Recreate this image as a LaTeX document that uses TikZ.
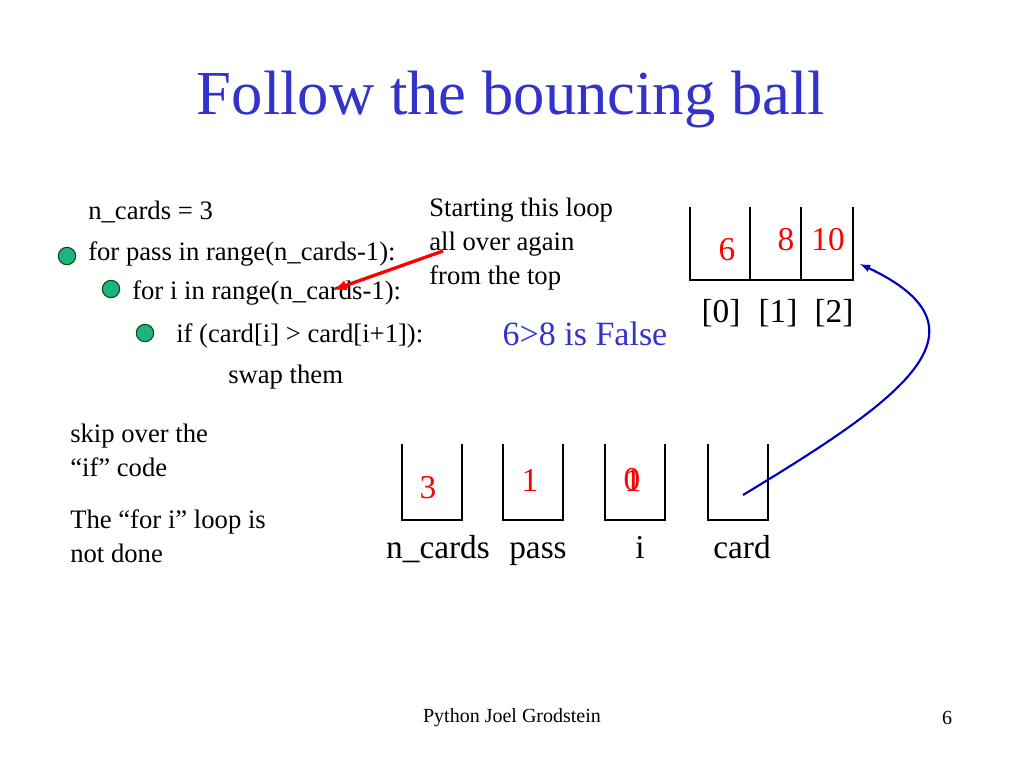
\documentclass[tikz,border=0pt]{standalone}
\usepackage{fontspec}
\setmainfont{Liberation Serif}
\begin{document}
\begin{tikzpicture}[x=0.75pt,y=-0.75pt,
  code/.style={anchor=west,inner sep=0,font=\fontsize{20}{25.5}\selectfont},
  lbl/.style={inner sep=0,anchor=base,font=\fontsize{25}{30}\selectfont},
  num/.style={inner sep=0,text=red,font=\fontsize{25}{30}\selectfont},
  bul/.style={circle,draw=black!70!green,fill={rgb,255:red,30;green,180;blue,130},minimum size=13pt,inner sep=0,line width=0.8pt},
  cup/.style={line width=2pt}]
\useasboundingbox (0,0) rectangle (1024,768);
\node[inner sep=0,text={rgb,255:red,51;green,51;blue,204},font=\fontsize{47}{54}\selectfont] (title) at (511,100) {Follow the bouncing ball};
\node[code] (l1) at (88,212) {n\_cards = 3};
\node[code] (l2) at (88,254) {for pass in range(n\_cards-1):};
\node[code] (l3) at (132,293) {for i in range(n\_cards-1):};
\node[code] (l4) at (176,336) {if (card[i] > card[i+1]):};
\node[code] (l5) at (228,377) {swap them};
\node[bul] (b1) at (67,256) {};
\node[bul] (b2) at (111,289) {};
\node[bul] (b3) at (145,333) {};
\node[code,align=left] (note) at (429,244) {Starting this loop\\all over again\\from the top};
\node[code,align=left] (skip) at (70,450) {skip over the\\“if” code};
\node[code,align=left] (ndone) at (70,536) {The “for i” loop is\\not done};
\node[inner sep=0,text={rgb,255:red,51;green,51;blue,204},font=\fontsize{25.5}{30}\selectfont] (cmp) at (585,334) {6>8 is False};
% top array
\draw[cup] (690,207) -- (690,280) -- (853,280) -- (853,207);
\draw[cup] (750,207) -- (750,280);
\draw[cup] (801,207) -- (801,280);
\node[num] (a0) at (727,250) {6};
\node[num] (a1) at (786,240) {8};
\node[num] (a2) at (828,240) {10};
\node[lbl] (i0) at (721,322) {[0]};
\node[lbl] (i1) at (778,322) {[1]};
\node[lbl] (i2) at (834,322) {[2]};
% variable boxes
\foreach \x/\n in {402/nc,503/ps,605/ii,708/cd}{
  \draw[cup] (\x,444) -- (\x,520) -- (\x+60,520) -- (\x+60,444);
  \coordinate (\n) at (\x+30,482);
}
\node[num] (v3) at (428,488) {3};
\node[num] (v1) at (530,480) {1};
\node[num] (v0) at (632,480) {0};
\node[num] (v0b) at (633,480) {1};
\node[lbl] (t1) at (438,558) {n\_cards};
\node[lbl] (t2) at (538,558) {pass};
\node[lbl] (t3) at (640,558) {i};
\node[lbl] (t4) at (742,558) {card};
\coordinate (cs) at (743,495);
\coordinate (rs) at (443,251);
\coordinate (re) at (333,290);
\draw[red,line width=2.5pt,-latex] (rs) -- (re);
\draw[blue!75!black,line width=1.6pt,-latex] (cs) .. controls (900,400) and (1000,330) .. (860,264);
\node[inner sep=0,font=\fontsize{15}{18}\selectfont] (foot) at (512,718) {Python Joel Grodstein};
\node[inner sep=0,font=\fontsize{15}{18}\selectfont] (pg) at (947,718) {6};
\end{tikzpicture}
\end{document}
